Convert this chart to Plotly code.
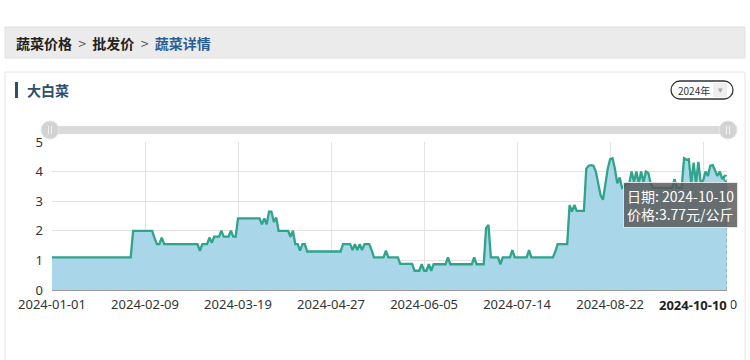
import plotly.graph_objects as go
import pandas as pd

# ---------------- data ----------------
start_date = "2024-01-01"
# daily wholesale price (元/公斤), 2024-01-01 .. 2024-10-10
prices = [
    1.1, 1.1, 1.1, 1.1, 1.1, 1.1, 1.1, 1.1, 1.1, 1.1,
    1.1, 1.1, 1.1, 1.1, 1.1, 1.1, 1.1, 1.1, 1.1, 1.1,
    1.1, 1.1, 1.1, 1.1, 1.1, 1.1, 1.1, 1.1, 1.1, 1.1,
    1.1, 1.1, 1.1, 1.1, 2.0, 2.0, 2.0, 2.0, 2.0, 2.0,
    2.0, 2.0, 2.0, 1.75, 1.55, 1.55, 1.77, 1.55, 1.55, 1.55,
    1.55, 1.55, 1.55, 1.55, 1.55, 1.55, 1.55, 1.55, 1.55, 1.55,
    1.55, 1.55, 1.32, 1.55, 1.55, 1.55, 1.77, 1.6, 1.8, 1.8,
    1.8, 2.0, 1.8, 1.8, 1.8, 2.0, 1.8, 1.8, 2.42, 2.42,
    2.42, 2.42, 2.42, 2.42, 2.42, 2.42, 2.42, 2.42, 2.22, 2.42,
    2.22, 2.65, 2.65, 2.3, 2.45, 2.0, 2.0, 2.0, 2.0, 2.0,
    1.8, 2.0, 1.55, 1.55, 1.33, 1.55, 1.55, 1.3, 1.3, 1.3,
    1.3, 1.3, 1.3, 1.3, 1.3, 1.3, 1.3, 1.3, 1.3, 1.3,
    1.3, 1.3, 1.55, 1.55, 1.55, 1.55, 1.35, 1.55, 1.35, 1.55,
    1.35, 1.55, 1.55, 1.55, 1.35, 1.1, 1.1, 1.1, 1.1, 1.1,
    1.33, 1.1, 1.1, 1.1, 1.1, 1.1, 0.88, 0.88, 0.88, 0.88,
    0.88, 0.88, 0.65, 0.65, 0.65, 0.87, 0.65, 0.65, 0.87, 0.65,
    0.87, 0.87, 0.87, 0.87, 0.87, 0.87, 1.1, 0.87, 0.87, 0.87,
    0.87, 0.87, 0.87, 0.87, 0.87, 0.87, 0.87, 1.1, 0.87, 0.87,
    0.87, 0.87, 2.1, 2.2, 1.1, 1.1, 1.1, 1.1, 0.87, 1.1,
    1.1, 1.1, 1.1, 1.35, 1.1, 1.1, 1.1, 1.1, 1.1, 1.1,
    1.35, 1.1, 1.1, 1.1, 1.1, 1.1, 1.1, 1.1, 1.1, 1.1,
    1.1, 1.3, 1.55, 1.55, 1.55, 1.55, 1.55, 2.87, 2.65, 2.87,
    2.67, 2.67, 2.67, 2.67, 4.1, 4.2, 4.22, 4.2, 4.0, 3.6,
    3.2, 3.05, 3.6, 4.1, 4.42, 4.45, 4.1, 3.6, 3.8, 3.45,
    3.5, 3.6, 3.6, 4.0, 3.65, 4.0, 3.6, 4.0, 3.65, 4.0,
    3.95, 3.6, 3.45, 3.45, 3.45, 3.45, 3.45, 3.45, 3.45, 3.45,
    3.45, 3.75, 3.45, 3.45, 3.45, 4.45, 4.4, 4.42, 3.6, 4.3,
    3.6, 4.33, 3.6, 3.7, 4.0, 3.85, 4.2, 4.22, 4.0, 3.85,
    4.0, 3.75, 3.85, 3.77,
]
x_tick_labels = ["2024-01-01", "2024-02-09", "2024-03-19", "2024-04-27",
                 "2024-06-05", "2024-07-14", "2024-08-22", "2024-09-30"]
y_ticks = [0, 1, 2, 3, 4, 5]
hover_date = "2024-10-10"
hover_price = 3.77
breadcrumb = ["蔬菜价格", "批发价", "蔬菜详情"]
title_text = "大白菜"
year_text = "2024年"

dates = pd.date_range(start_date, periods=len(prices), freq="D")

# ---------------- layout helpers ----------------
W, H = 750, 360


def px(x):
    return x / W


def py(y):
    return 1 - y / H


def rounded_path(x0, y0, x1, y1, r):
    k = 0.5523 * r
    pts = [
        ("M", [(x0 + r, y0)]),
        ("L", [(x1 - r, y0)]),
        ("C", [(x1 - r + k, y0), (x1, y0 + r - k), (x1, y0 + r)]),
        ("L", [(x1, y1 - r)]),
        ("C", [(x1, y1 - r + k), (x1 - r + k, y1), (x1 - r, y1)]),
        ("L", [(x0 + r, y1)]),
        ("C", [(x0 + r - k, y1), (x0, y1 - r + k), (x0, y1 - r)]),
        ("L", [(x0, y0 + r)]),
        ("C", [(x0, y0 + r - k), (x0 + r - k, y0), (x0 + r, y0)]),
    ]
    s = ""
    for cmd, ps in pts:
        s += cmd + " ".join(f"{px(a):.5f},{py(b):.5f}" for a, b in ps) + " "
    return s + "Z"


PLOT_L, PLOT_R, PLOT_T, PLOT_B = 52, 727, 142, 290

fig = go.Figure()
fig.add_trace(go.Scatter(
    x=dates, y=prices, mode="lines",
    line=dict(color="#2ea48a", width=2.3),
    fill="tozeroy", fillcolor="#aad6ea",
    hoverinfo="skip", showlegend=False,
))
# highlighted last point
fig.add_trace(go.Scatter(
    x=[hover_date], y=[hover_price], mode="markers",
    marker=dict(size=6, color="white", line=dict(color="#2ea48a", width=1.5)),
    hoverinfo="skip", showlegend=False,
))

shapes = [
    # breadcrumb bar
    dict(type="rect", xref="paper", yref="paper", x0=px(5), x1=px(745), y0=py(58), y1=py(27),
         fillcolor="#ebebeb", line=dict(color="#e0e0e0", width=1), layer="below"),
    # panel
    dict(type="rect", xref="paper", yref="paper", x0=px(5), x1=px(745), y0=py(362), y1=py(72),
         fillcolor="white", line=dict(color="#e6e6e6", width=1), layer="below"),
    # title accent bar
    dict(type="rect", xref="paper", yref="paper", x0=px(15), x1=px(18), y0=py(98), y1=py(82),
         fillcolor="#2f4d6c", line=dict(width=0), layer="below"),
    # year dropdown
    dict(type="path", xref="paper", yref="paper", path=rounded_path(671, 81, 733, 99, 9),
         fillcolor="white", line=dict(color="#333333", width=1.3)),
    dict(type="rect", xref="paper", yref="paper", x0=px(713), x1=px(727), y0=py(97), y1=py(83),
         fillcolor="#eeeeee", line=dict(width=0)),
    # slider track
    dict(type="path", xref="paper", yref="paper", path=rounded_path(50, 126, 728, 134, 4),
         fillcolor="#dadada", line=dict(width=0), layer="below"),
    # slider handles
    dict(type="circle", xref="paper", yref="paper", x0=px(41), x1=px(59), y0=py(139), y1=py(121),
         fillcolor="#d3d3d3", line=dict(color="#e6e6e6", width=1)),
    dict(type="circle", xref="paper", yref="paper", x0=px(719), x1=px(737), y0=py(139), y1=py(121),
         fillcolor="#d3d3d3", line=dict(color="#e6e6e6", width=1)),
    dict(type="line", xref="paper", yref="paper", x0=px(48.5), x1=px(48.5), y0=py(134), y1=py(126),
         line=dict(color="#f2f2f2", width=1)),
    dict(type="line", xref="paper", yref="paper", x0=px(51.5), x1=px(51.5), y0=py(134), y1=py(126),
         line=dict(color="#f2f2f2", width=1)),
    dict(type="line", xref="paper", yref="paper", x0=px(726.5), x1=px(726.5), y0=py(134), y1=py(126),
         line=dict(color="#f2f2f2", width=1)),
    dict(type="line", xref="paper", yref="paper", x0=px(729.5), x1=px(729.5), y0=py(134), y1=py(126),
         line=dict(color="#f2f2f2", width=1)),
    # axis pointer (dashed)
    dict(type="line", xref="x", yref="y", x0=hover_date, x1=hover_date, y0=0, y1=hover_price,
         line=dict(color="#8a8a8a", width=1, dash="dot")),
]

annotations = [
    dict(xref="paper", yref="paper", x=px(14), y=py(42.5), xanchor="left", yanchor="middle",
         showarrow=False,
         text=(f"<b>{breadcrumb[0]}</b>  <span style='color:#555'>&gt;</span>  "
               f"<b>{breadcrumb[1]}</b>  <span style='color:#555'>&gt;</span>  "
               f"<b><span style='color:#2c5e94'>{breadcrumb[2]}</span></b>"),
         font=dict(family="Noto Sans CJK SC", size=14, color="#222222")),
    dict(xref="paper", yref="paper", x=px(25), y=py(90), xanchor="left", yanchor="middle",
         showarrow=False, text=f"<b>{title_text}</b>",
         font=dict(family="Noto Sans CJK SC", size=14, color="#2e4e70")),
    dict(xref="paper", yref="paper", x=px(676), y=py(90), xanchor="left", yanchor="middle",
         showarrow=False, text=year_text,
         font=dict(family="Noto Sans CJK SC", size=10, color="#333333")),
    dict(xref="paper", yref="paper", x=px(720), y=py(90), xanchor="center", yanchor="middle",
         showarrow=False, text="▾",
         font=dict(family="DejaVu Sans", size=9, color="#aaaaaa")),
    # tooltip
    dict(xref="paper", yref="paper", x=px(623), y=py(205), xanchor="left", yanchor="middle",
         showarrow=False, align="left",
         text=f"日期: {hover_date}<br>价格:{hover_price}元/公斤",
         font=dict(family="Noto Sans CJK SC", size=14, color="white"),
         bgcolor="rgba(85,85,85,0.82)", bordercolor="rgba(235,235,235,0.9)", borderwidth=1,
         borderpad=3),
    # axis pointer label
    dict(xref="paper", yref="paper", x=px(692.5), y=py(305), xanchor="center", yanchor="middle",
         showarrow=False, text=f"<b>{hover_date}</b>",
         font=dict(family="Noto Sans", size=13, color="#222222"),
         bgcolor="white", borderpad=3),
]

fig.update_layout(
    template="none",
    width=W, height=H,
    margin=dict(l=0, r=0, t=0, b=0, pad=0),
    paper_bgcolor="white", plot_bgcolor="white",
    shapes=shapes, annotations=annotations,
    xaxis=dict(
        type="date", range=[dates[0], dates[-1]],
        domain=[px(PLOT_L), px(PLOT_R)], automargin=False,
        tickmode="array", tickvals=x_tick_labels, ticktext=x_tick_labels,
        showgrid=True, gridcolor="#e3e3e3", gridwidth=1,
        showline=True, linecolor="#9a9a9a", linewidth=1,
        ticks="", zeroline=False,
        tickfont=dict(family="Noto Sans", size=13, color="#333333"),
        ticklabelstandoff=2,
    ),
    yaxis=dict(
        range=[0, 5], domain=[py(PLOT_B), py(PLOT_T)], automargin=False,
        tickmode="array", tickvals=y_ticks,
        showgrid=True, gridcolor="#e3e3e3", gridwidth=1,
        zeroline=False, showline=False, ticks="",
        tickfont=dict(family="Noto Sans", size=13, color="#333333"),
        ticklabelstandoff=8,
    ),
    hovermode=False,
)

fig.write_html("out.html", config={"displayModeBar": False},
               post_script="document.body.style.margin='0';document.body.style.overflow='hidden';")
